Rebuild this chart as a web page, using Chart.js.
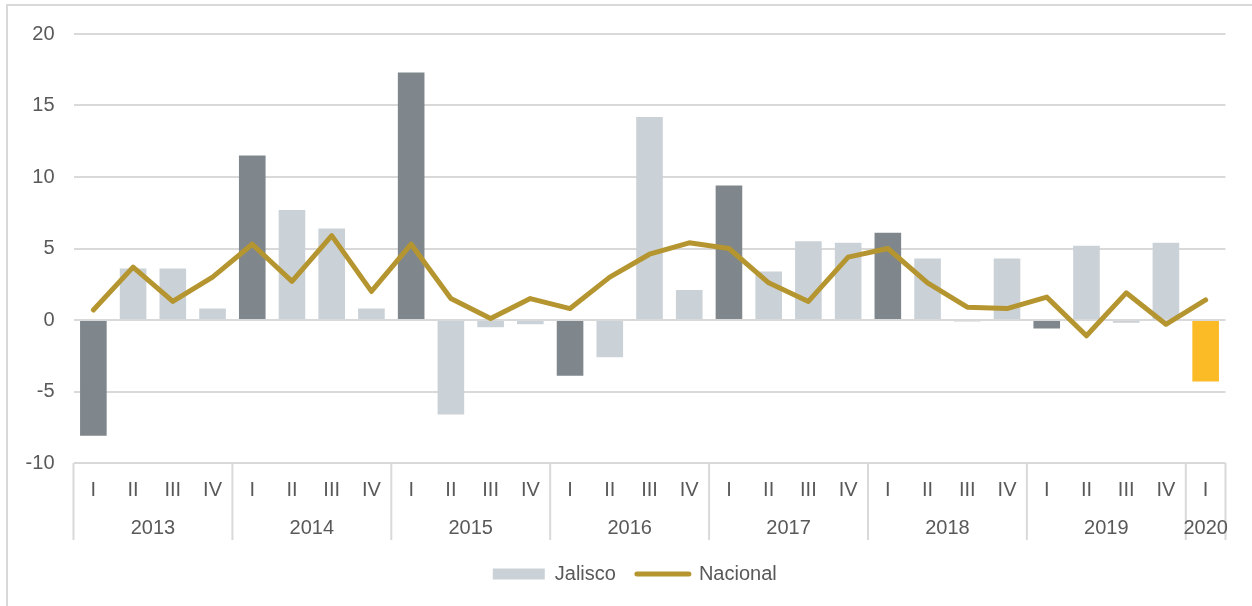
<!DOCTYPE html>
<html>
<head>
<meta charset="utf-8">
<script src="https://cdn.jsdelivr.net/npm/chart.js@4"></script>
<style>
  html, body { margin: 0; padding: 0; background: #fff; }
  #wrap { position: relative; width: 1252px; height: 606px; overflow: hidden; }
  #frame { position: absolute; left: 6px; top: 4px; right: -6px; bottom: -6px;
           border-left: 2px solid #d9d9d9; border-top: 2px solid #d9d9d9; pointer-events: none; }
</style>
</head>
<body>
<div id="wrap">
  <canvas id="chart" width="1252" height="606"></canvas>
  <div id="frame"></div>
</div>
<script>
// quarters (category axis) and the year groups under them
const quarterLabels = ['I', 'II', 'III', 'IV', 'I', 'II', 'III', 'IV', 'I', 'II', 'III', 'IV',
                       'I', 'II', 'III', 'IV', 'I', 'II', 'III', 'IV', 'I', 'II', 'III', 'IV',
                       'I', 'II', 'III', 'IV', 'I'];
const yearLabels = ['2013', '2014', '2015', '2016', '2017', '2018', '2019', '2020'];
const quartersPerYear = [4, 4, 4, 4, 4, 4, 4, 1];

// annual % change
const jaliscoValues = [-8.1, 3.6, 3.6, 0.8, 11.5, 7.7, 6.4, 0.8, 17.3, -6.6, -0.5, -0.3,
                       -3.9, -2.6, 14.2, 2.1, 9.4, 3.4, 5.5, 5.4, 6.1, 4.3, -0.1, 4.3,
                       -0.6, 5.2, -0.2, 5.4, -4.3];
const nacionalValues = [0.7, 3.7, 1.3, 3.0, 5.3, 2.7, 5.9, 2.0, 5.3, 1.5, 0.1, 1.5,
                        0.8, 3.0, 4.6, 5.4, 5.0, 2.6, 1.3, 4.4, 5.0, 2.6, 0.9, 0.8,
                        1.6, -1.1, 1.9, -0.3, 1.4];

const yMin = -10, yMax = 20, yStep = 5;

const DARK = '#7f878d';
const LIGHT = '#cad1d7';
const HIGHLIGHT = '#fbbb27';
const GOLD = '#b5952f';
const GRID = '#d9d9d9';
const TEXT = '#595959';
const FONT = '"Liberation Sans", Arial, sans-serif';

// first quarter of each year is darker, latest quarter highlighted
function barColor(ctx) {
    if (ctx.type !== 'data') return LIGHT;
    const i = ctx.dataIndex;
    if (i === quarterLabels.length - 1) return HIGHLIGHT;
    return quarterLabels[i] === 'I' ? DARK : LIGHT;
}

// year labels and group dividers below the quarter ticks
const yearAxisPlugin = {
    id: 'yearAxis',
    afterLayout(chart) {
        // legend sits a little right of centre in the original
        chart.legend.left += 12;
        chart.legend.right += 12;
    },
    afterDraw(chart) {
        const { ctx, chartArea } = chart;
        const x = chart.scales.x;
        const half = (x.getPixelForValue(1) - x.getPixelForValue(0)) / 2;
        const top = chartArea.bottom;
        const bottom = chartArea.bottom + 77;
        const edges = [];
        const centers = [];

        let start = 0;
        yearLabels.forEach((year, g) => {
            const end = start + quartersPerYear[g] - 1;
            const left = x.getPixelForValue(start) - half;
            const right = x.getPixelForValue(end) + half;
            edges.push(left);
            if (g === yearLabels.length - 1) edges.push(right);
            centers.push((left + right) / 2);
            start = end + 1;
        });

        ctx.save();
        ctx.strokeStyle = GRID;
        ctx.lineWidth = 2;
        edges.forEach(px => {
            ctx.beginPath();
            ctx.moveTo(px, top);
            ctx.lineTo(px, bottom);
            ctx.stroke();
        });

        ctx.font = '20px ' + FONT;
        ctx.fillStyle = TEXT;
        ctx.textAlign = 'center';
        ctx.textBaseline = 'middle';
        yearLabels.forEach((year, g) => ctx.fillText(year, centers[g], top + 65));
        ctx.restore();
    }
};

const labels = quarterLabels.map((q, i) => i + ':' + q);

new Chart(document.getElementById('chart'), {
    data: {
        labels: labels,
        datasets: [
            {
                type: 'bar',
                label: 'Jalisco',
                data: jaliscoValues,
                backgroundColor: barColor,
                barPercentage: 0.67,
                categoryPercentage: 1,
                order: 1,
            },
            {
                type: 'line',
                label: 'Nacional',
                data: nacionalValues,
                borderColor: GOLD,
                backgroundColor: GOLD,
                borderWidth: 5,
                borderJoinStyle: 'round',
                borderCapStyle: 'round',
                pointRadius: 0,
                tension: 0,
                order: 0,
            },
        ],
    },
    options: {
        responsive: false,
        animation: false,
        layout: { padding: { left: 20, right: 26.5, top: 34, bottom: 12 } },
        plugins: {
            tooltip: { enabled: false },
            legend: {
                position: 'bottom',
                labels: {
                    usePointStyle: true,
                    pointStyleWidth: 52,
                    boxHeight: 11,
                    padding: 21,
                    color: TEXT,
                    font: { family: FONT, size: 20 },
                    sort: (a, b) => a.datasetIndex - b.datasetIndex,
                    generateLabels(chart) {
                        const items = Chart.defaults.plugins.legend.labels.generateLabels(chart);
                        items.forEach(item => {
                            if (item.datasetIndex === 1) {
                                item.pointStyle = 'line';
                                item.strokeStyle = GOLD;
                                item.lineWidth = 5;
                                item.lineCap = 'round';
                            } else {
                                item.pointStyle = 'rect';
                                item.fillStyle = LIGHT;
                                item.strokeStyle = LIGHT;
                                item.lineWidth = 0;
                            }
                        });
                        return items;
                    },
                },
            },
        },
        scales: {
            x: {
                offset: true,
                grid: { display: false, drawTicks: false },
                border: { display: false },
                ticks: {
                    autoSkip: false,
                    maxRotation: 0,
                    padding: 15,
                    color: TEXT,
                    font: { family: FONT, size: 20 },
                    callback: (v, i) => quarterLabels[i],
                },
                afterFit: (scale) => { scale.height = 80; },
            },
            y: {
                min: yMin,
                max: yMax,
                grid: { color: GRID, lineWidth: 2, drawTicks: false },
                border: { display: false },
                ticks: {
                    stepSize: yStep,
                    padding: 19,
                    color: TEXT,
                    font: { family: FONT, size: 20 },
                },
                afterFit: (scale) => { scale.width = 53.5; },
            },
        },
    },
    plugins: [yearAxisPlugin],
});
</script>
</body>
</html>
